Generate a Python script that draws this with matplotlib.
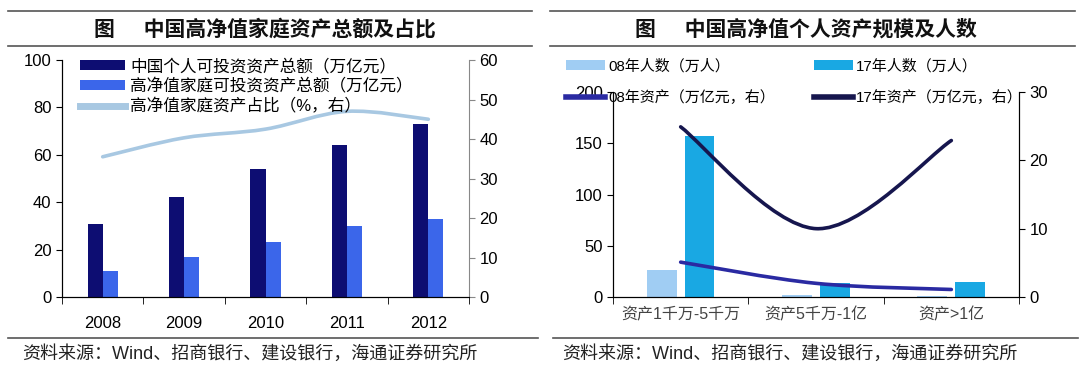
import matplotlib
matplotlib.use("Agg")
import matplotlib.pyplot as plt
import numpy as np
from matplotlib.lines import Line2D
from matplotlib.patches import PathPatch
from matplotlib.path import Path

plt.rcParams["font.family"] = ["Liberation Sans", "Noto Sans CJK SC", "DejaVu Sans"]

# 左图：中国高净值家庭资产总额及占比
years = ["2008", "2009", "2010", "2011", "2012"]
personal_total = [31, 42, 54, 64, 73]        # 中国个人可投资资产总额（万亿元）
hnw_total = [11, 17, 23, 30, 33]             # 高净值家庭可投资资产总额（万亿元）
hnw_share = [35.5, 40.3, 42.5, 47.0, 45.0]   # 高净值家庭资产占比（%，右）

# 右图：中国高净值个人资产规模及人数
tiers = ["资产1千万-5千万", "资产5千万-1亿", "资产>1亿"]
people_08 = [26, 2, 0.5]      # 08年人数（万人）
people_17 = [157, 14, 15]     # 17年人数（万人）
assets_08 = [5.1, 2.0, 1.1]   # 08年资产（万亿元，右）
assets_17 = [24.9, 10.0, 22.9]  # 17年资产（万亿元，右）

DARK = "#0d0d72"
MID = "#3b66ea"
PALE = "#a8c8e2"
BAR08 = "#a0cdf3"
BAR17 = "#19a8e3"
LINE08 = "#2a2aa2"
LINE17 = "#16164e"


def smooth_path(xs, ys):
    """Excel風の平滑線（Catmull-Rom → Bezier）."""
    pts = np.column_stack([xs, ys]).astype(float)
    n = len(pts)
    verts, codes = [pts[0]], [Path.MOVETO]
    for i in range(n - 1):
        p0, p1 = pts[max(i - 1, 0)], pts[i]
        p2, p3 = pts[i + 1], pts[min(i + 2, n - 1)]
        verts += [p1 + (p2 - p0) / 6, p2 - (p3 - p1) / 6, p2]
        codes += [Path.CURVE4] * 3
    return Path(verts, codes)


def category_axis(ax, labels, pad, size):
    n = len(labels)
    ax.set_xlim(-0.5, n - 0.5)
    ax.set_xticks(range(n))
    ax.set_xticklabels(labels, fontsize=size)
    ax.set_xticks(np.arange(-0.5, n), minor=True)
    ax.tick_params(axis="x", which="major", length=0, pad=pad)
    ax.tick_params(axis="x", which="minor", length=5, direction="out")


fig = plt.figure(figsize=(10.8, 3.75), dpi=100)

# ---- left panel ----
axL = fig.add_axes([62 / 1080, 1 - 297 / 375, (469 - 62) / 1080, (297 - 60) / 375])
x = np.arange(len(years))
w = 0.185
b1 = axL.bar(x - w / 2, personal_total, w, color=DARK)
b2 = axL.bar(x + w / 2, hnw_total, w, color=MID)
axL.set_ylim(0, 100)
axL.set_yticks(range(0, 101, 20))
category_axis(axL, years, 14, 12)
axL.tick_params(axis="y", labelsize=12, length=4, direction="out")
for s in ("top", "right"):
    axL.spines[s].set_visible(False)

axL2 = axL.twinx()
axL2.add_patch(PathPatch(smooth_path(x, hnw_share), fill=False, ec=PALE, lw=2.6,
                         capstyle="round"))
axL2.set_ylim(0, 60)
axL2.set_yticks(range(0, 61, 10))
axL2.tick_params(axis="y", labelsize=12, length=4, direction="out", color="#888888")
axL2.spines["right"].set_color("#888888")
axL2.spines["top"].set_visible(False)

fig.legend([b1, b2, Line2D([], [], color=PALE, lw=5)],
           ["中国个人可投资资产总额（万亿元）", "高净值家庭可投资资产总额（万亿元）",
            "高净值家庭资产占比（%，右）"],
           loc="upper left", bbox_to_anchor=(80 / 1080, 1 - 58 / 375), frameon=False,
           fontsize=12, handlelength=2.7, handleheight=0.55, handletextpad=0.3,
           labelspacing=0.25, borderpad=0, borderaxespad=0)

# ---- right panel ----
axR = fig.add_axes([613 / 1080, 1 - 297 / 375, (1019 - 613) / 1080, (297 - 92) / 375])
xr = np.arange(len(tiers))
wr = 0.22
r1 = axR.bar(xr - 0.14, people_08, wr, color=BAR08)
r2 = axR.bar(xr + 0.14, people_17, wr, color=BAR17)
axR.set_ylim(0, 200)
axR.set_yticks(range(0, 201, 50))
category_axis(axR, tiers, 7, 11.5)
for lab in axR.get_xticklabels():
    lab.set_color("#444444")
axR.tick_params(axis="y", labelsize=12, length=4, direction="out")
axR.spines["top"].set_visible(False)

axR2 = axR.twinx()
axR2.add_patch(PathPatch(smooth_path(xr, assets_08), fill=False, ec=LINE08, lw=2.6,
                         capstyle="round"))
axR2.add_patch(PathPatch(smooth_path(xr, assets_17), fill=False, ec=LINE17, lw=2.6,
                         capstyle="round"))
axR2.set_ylim(0, 30)
axR2.set_yticks(range(0, 31, 10))
axR2.tick_params(axis="y", labelsize=12, length=4, direction="out")
axR2.spines["top"].set_visible(False)

fig.legend([r1, Line2D([], [], color=LINE08, lw=4), r2, Line2D([], [], color=LINE17, lw=4)],
           ["08年人数（万人）", "08年资产（万亿元，右）", "17年人数（万人）",
            "17年资产（万亿元，右）"],
           ncol=2, loc="upper left", bbox_to_anchor=(566 / 1080, 1 - 59 / 375),
           frameon=False, fontsize=10.8, handlelength=2.6, handleheight=0.65,
           handletextpad=0.2, labelspacing=1.1, columnspacing=2.6, borderpad=0,
           borderaxespad=0)

# ---- titles, rules, sources ----
for x0, x1 in [(8, 532), (550, 1075)]:
    for yy in (11, 46):
        fig.add_artist(Line2D([x0 / 1080, x1 / 1080], [1 - yy / 375] * 2,
                              color="#555555", lw=1.2))
fig.add_artist(Line2D([8 / 1080, 538 / 1080], [1 - 338 / 375] * 2, color="#555555", lw=1.2))
fig.add_artist(Line2D([553 / 1080, 1078 / 1080], [1 - 338 / 375] * 2, color="#555555", lw=1.2))

fig.text(94 / 1080, 1 - 29 / 375, "图     中国高净值家庭资产总额及占比", fontsize=15,
         fontweight="bold", va="center", ha="left", color="#111111")
fig.text(635 / 1080, 1 - 29 / 375, "图     中国高净值个人资产规模及人数", fontsize=15,
         fontweight="bold", va="center", ha="left", color="#111111")

src = "资料来源：Wind、招商银行、建设银行，海通证券研究所"
fig.text(22 / 1080, 1 - 354 / 375, src, fontsize=13, va="center", ha="left", color="#222222")
fig.text(562 / 1080, 1 - 354 / 375, src, fontsize=13, va="center", ha="left", color="#222222")

fig.savefig("out.png", dpi=100, facecolor="white")
